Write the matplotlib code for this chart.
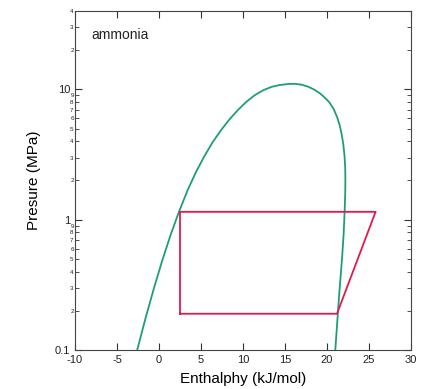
import matplotlib
matplotlib.use("Agg")
import matplotlib.pyplot as plt
from matplotlib.ticker import LogLocator, FuncFormatter, MultipleLocator

plt.rcParams['font.family'] = ['Liberation Sans', 'DejaVu Sans']
plt.rcParams['axes.unicode_minus'] = False

# saturation dome of ammonia, liquid branch then vapour branch (h in kJ/mol, P in MPa)
liq_h = [-2.6, -1.6, -0.6, 0.4, 1.4, 2.4, 3.4, 4.4, 5.4, 6.4, 7.4, 8.4,
         9.4, 10.4, 11.4, 12.4, 13.4, 14.4, 15.4, 16.2]
liq_p = [0.100, 0.176, 0.299, 0.490, 0.771, 1.16, 1.68, 2.32, 3.07, 3.94,
         4.88, 5.89, 6.95, 8.02, 9.02, 9.84, 10.45, 10.81, 10.99, 11.04]
vap_h = [17.0, 17.8, 18.5, 19.2, 19.8, 20.3, 20.8, 21.2, 21.5, 21.75, 21.95,
         22.1, 22.18, 22.2, 22.18, 22.12, 22.0, 21.8, 21.55, 21.3, 21.0]
vap_p = [10.86, 10.47, 9.95, 9.29, 8.59, 7.94, 7.08, 6.17, 5.37, 4.57, 3.80,
         3.09, 2.51, 2.0, 1.58, 1.20, 0.79, 0.50, 0.316, 0.19, 0.10]

# refrigeration cycle
cyc_h = [2.5, 2.5, 25.8, 21.2, 2.5]
cyc_p = [0.19, 1.15, 1.15, 0.19, 0.19]

fig = plt.figure(figsize=(4.24, 3.89), dpi=100)
ax = fig.add_axes([0.177, 0.1, 0.792, 0.872])

ax.plot(liq_h + vap_h, liq_p + vap_p, color="#1f9d78", lw=1.3)
ax.plot(cyc_h, cyc_p, color="#e3194b", lw=1.3)

ax.set_yscale("log")
ax.set_xlim(-10, 30)
ax.set_ylim(0.1, 40)

ax.xaxis.set_major_locator(MultipleLocator(5))
ax.yaxis.set_major_locator(LogLocator(base=10))
ax.yaxis.set_minor_locator(LogLocator(base=10, subs=range(2, 10)))
ax.yaxis.set_major_formatter(FuncFormatter(lambda v, p: f"{v:g}"))
ax.yaxis.set_minor_formatter(FuncFormatter(
    lambda v, p: str(int(round(v / 10 ** int(f"{v:e}".split("e")[1])))))
)

ax.tick_params(which="both", direction="in", top=True, right=True,
               colors="#333333", labelcolor="#222222")
ax.tick_params(which="major", length=5, labelsize=8)
ax.tick_params(axis="y", which="minor", length=3, labelsize=4.5, pad=1)
for s in ax.spines.values():
    s.set_color("#444444")

ax.set_xlabel("Enthalphy (kJ/mol)", fontsize=11, labelpad=5)
ax.set_ylabel("Presure (MPa)", fontsize=11, labelpad=10)
ax.text(0.05, 0.93, "ammonia", transform=ax.transAxes, fontsize=10,
        color="#222222", va="center")

fig.savefig("out.png", dpi=100)
